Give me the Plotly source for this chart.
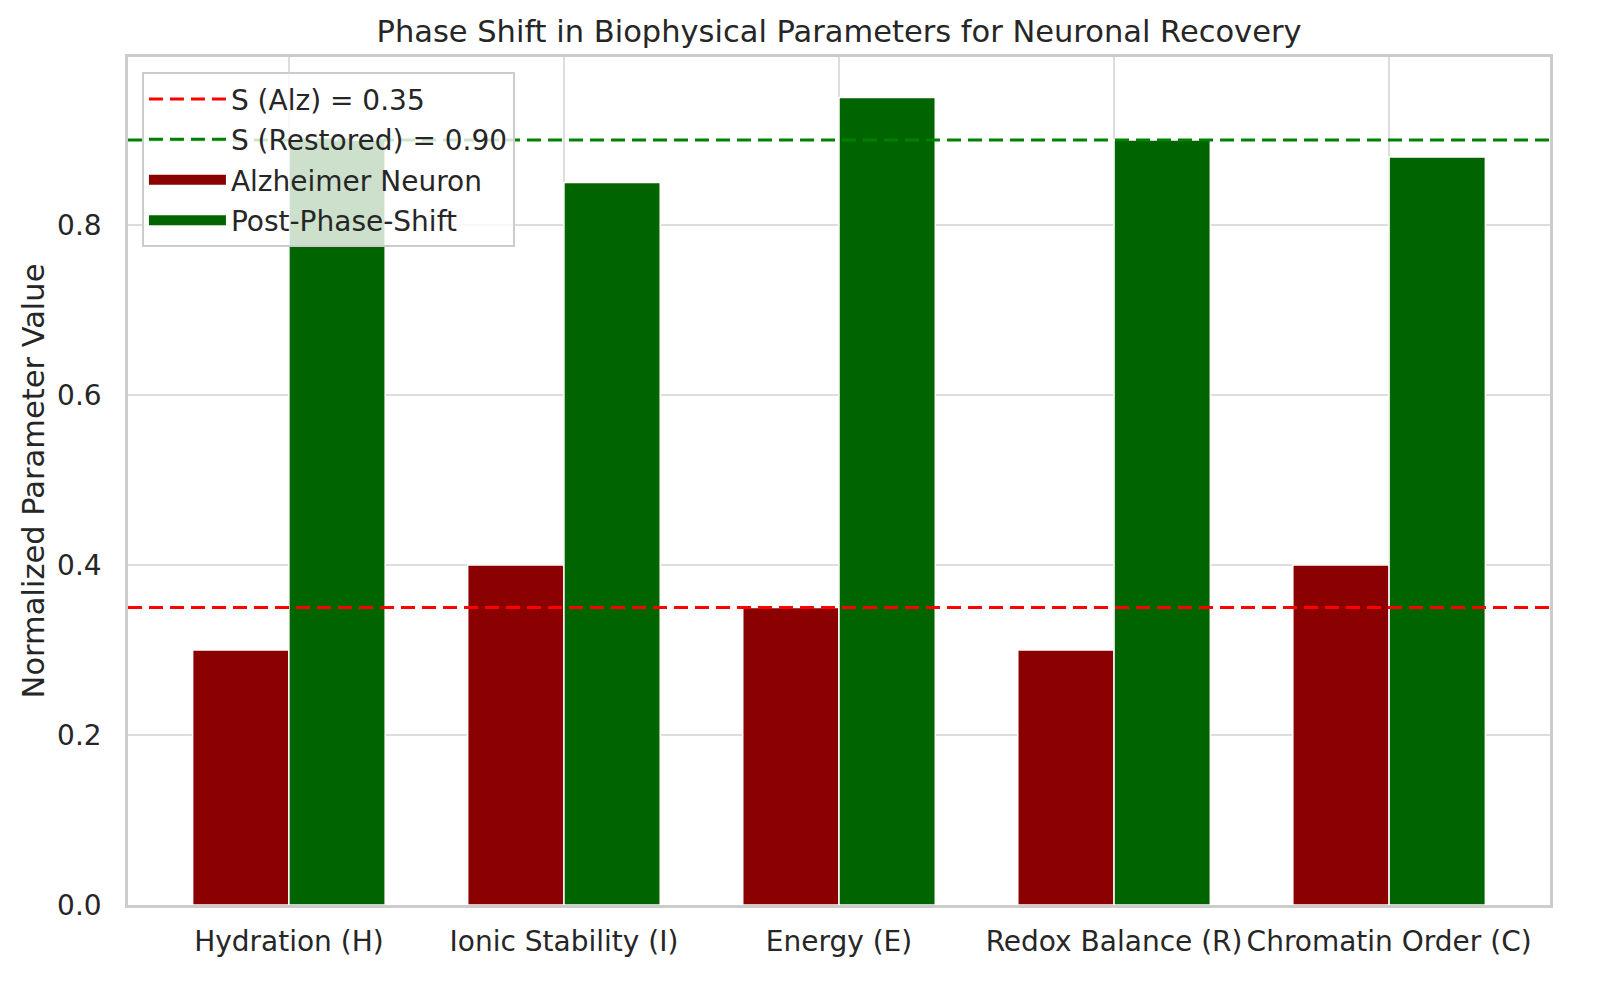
import plotly.graph_objects as go

categories = ["Hydration (H)", "Ionic Stability (I)", "Energy (E)", "Redox Balance (R)", "Chromatin Order (C)"]
alz_values = [0.30, 0.40, 0.35, 0.30, 0.40]
post_values = [0.90, 0.85, 0.95, 0.90, 0.88]
s_alz = 0.35
s_restored = 0.90
y_ticks = [0.0, 0.2, 0.4, 0.6, 0.8]

FONT = "DejaVu Sans"
TXT = "#262626"
ALZ_COLOR = "#8B0000"
POST_COLOR = "#006400"

fig = go.Figure()
fig.add_trace(go.Bar(
    x=categories, y=alz_values, name="Alzheimer Neuron",
    marker=dict(color=ALZ_COLOR, line=dict(color="white", width=1.5)),
    showlegend=False,
))
fig.add_trace(go.Bar(
    x=categories, y=post_values, name="Post-Phase-Shift",
    marker=dict(color=POST_COLOR, line=dict(color="white", width=1.5)),
    showlegend=False,
))
# legend patches for the bar series (wide rectangles like the original)
fig.add_trace(go.Scatter(x=[None], y=[None], mode="lines", name="Alzheimer Neuron",
                         line=dict(color=ALZ_COLOR, width=16), legendrank=3, legendgroup="c"))
fig.add_trace(go.Scatter(x=[None], y=[None], mode="lines", name="Post-Phase-Shift",
                         line=dict(color=POST_COLOR, width=16), legendrank=4, legendgroup="d"))

fig.add_shape(type="line", xref="x domain", x0=0, x1=1, yref="y", y0=s_alz, y1=s_alz,
              line=dict(color="red", width=3, dash="14px,7px"), layer="above",
              showlegend=True, name=f"S (Alz) = {s_alz:.2f}", legendrank=1, legendgroup="a")
fig.add_shape(type="line", xref="x domain", x0=0, x1=1, yref="y", y0=s_restored, y1=s_restored,
              line=dict(color="green", width=3, dash="14px,7px"), layer="above",
              showlegend=True, name=f"S (Restored) = {s_restored:.2f}", legendrank=2, legendgroup="b")

fig.update_layout(
    width=1600, height=994,
    paper_bgcolor="white", plot_bgcolor="white",
    margin=dict(l=128, r=50, t=57, b=89),
    barmode="group", bargap=0.3, bargroupgap=0.0,
    font=dict(family=FONT, size=28, color=TXT),
    title=dict(text="Phase Shift in Biophysical Parameters for Neuronal Recovery",
               x=0.5, xref="paper", xanchor="center", y=1 - 31 / 994, yref="container",
               yanchor="middle", font=dict(family=FONT, size=30.5, color=TXT)),
    legend=dict(x=0.0098, y=0.982, xanchor="left", yanchor="top",
                bgcolor="rgba(255,255,255,0.8)", bordercolor="#cccccc", borderwidth=2,
                font=dict(family=FONT, size=28, color=TXT),
                itemwidth=77, tracegroupgap=1),
    xaxis=dict(range=[-0.585, 4.585], showgrid=True, gridcolor="#dddddd", gridwidth=2,
               showline=True, linecolor="#cccccc", linewidth=2.5, mirror=True,
               ticks="", ticklabelstandoff=10, tickfont=dict(size=28),
               zeroline=False, automargin=False),
    yaxis=dict(range=[0, 0.9975], tickvals=y_ticks, tickformat=".1f",
               showgrid=True, gridcolor="#dddddd", gridwidth=2,
               showline=True, linecolor="#cccccc", linewidth=2.5, mirror=True,
               ticks="", ticklabelstandoff=18, tickfont=dict(size=28), zeroline=False,
               automargin=False,
               title=dict(text="Normalized Parameter Value", standoff=4,
                          font=dict(family=FONT, size=30.5, color=TXT))),
)

fig.write_html("out.html", config={"displayModeBar": False},
               post_script="document.body.style.margin='0';document.body.style.overflow='hidden';")
